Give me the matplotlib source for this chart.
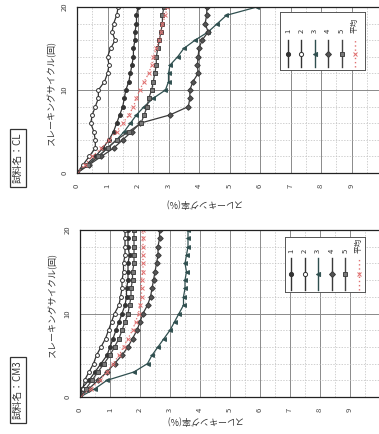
import numpy as np
import matplotlib
matplotlib.use("Agg")
import matplotlib.pyplot as plt

plt.rcParams['font.family'] = ['Noto Sans CJK JP', 'DejaVu Sans']

# --------------------------------- Data -------------------------------- #
cycles = list(range(0, 21))
series_names = ["1", "2", "3", "4", "5", "平均"]

# sample CL
cl_1 = [0, 0.3, 0.6, 0.85, 1.05, 1.2, 1.3, 1.4, 1.5, 1.55, 1.6, 1.7, 1.75, 1.8, 1.85, 1.85, 1.9, 1.9, 1.95, 1.95, 2.0]
cl_2 = [0, 0.2, 0.4, 0.6, 0.6, 0.55, 0.45, 0.5, 0.6, 0.7, 0.7, 0.9, 1.0, 1.05, 1.0, 1.1, 1.25, 1.15, 1.2, 1.3, 1.35]
cl_3 = [0, 0.35, 0.7, 1.0, 1.3, 1.55, 1.75, 1.95, 2.2, 2.5, 2.9, 3.0, 3.0, 3.05, 3.3, 3.5, 3.87, 4.3, 4.6, 4.9, 5.9]
cl_4 = [0, 0.4, 0.8, 1.2, 1.5, 1.8, 2.07, 3.05, 3.65, 3.7, 3.7, 3.8, 3.97, 3.95, 3.97, 4.0, 4.1, 4.3, 4.2, 4.25, 4.26]
cl_5 = [0, 0.35, 0.7, 1.0, 1.3, 1.7, 2.1, 2.2, 2.3, 2.35, 2.45, 2.5, 2.55, 2.6, 2.6, 2.65, 2.7, 2.75, 2.8, 2.8, 2.85]
cl_avg = [0, 0.25, 0.5, 0.8, 1.05, 1.3, 1.5, 1.7, 1.85, 1.95, 2.05, 2.2, 2.35, 2.45, 2.5, 2.6, 2.7, 2.75, 2.8, 2.9, 2.95]

# sample CM3
cm_1 = [0, 0.05, 0.3, 0.5, 0.7, 0.9, 1.0, 1.1, 1.2, 1.3, 1.4, 1.5, 1.55, 1.55, 1.6, 1.6, 1.6, 1.65, 1.6, 1.6, 1.6]
cm_2 = [0, 0.1, 0.15, 0.3, 0.45, 0.55, 0.7, 0.85, 0.95, 1.05, 1.15, 1.3, 1.35, 1.4, 1.4, 1.45, 1.45, 1.5, 1.5, 1.5, 1.5]
cm_3 = [0, 0.5, 0.9, 1.8, 2.25, 2.4, 2.6, 2.8, 3.0, 3.15, 3.3, 3.45, 3.45, 3.5, 3.5, 3.55, 3.5, 3.55, 3.6, 3.6, 3.6]
cm_4 = [0, 0.3, 0.6, 0.9, 1.15, 1.4, 1.6, 1.75, 1.9, 2.0, 2.1, 2.25, 2.35, 2.4, 2.45, 2.5, 2.55, 2.6, 2.6, 2.65, 2.65]
cm_5 = [0, 0.2, 0.4, 0.6, 0.8, 1.0, 1.15, 1.3, 1.4, 1.5, 1.6, 1.65, 1.7, 1.7, 1.75, 1.75, 1.8, 1.8, 1.8, 1.8, 1.8]
cm_avg = [0, 0.35, 0.65, 0.9, 1.1, 1.3, 1.45, 1.6, 1.75, 1.85, 1.95, 2.0, 2.05, 2.05, 2.05, 2.1, 2.1, 2.1, 2.1, 2.1, 2.1]

rate_ticks = list(range(0, 11))
rate_labels = [str(v) for v in range(0, 10)] + [""]  # "10" falls off the page edge
cycle_ticks = [0, 10, 20]

# ------------------------------- Styles -------------------------------- #
STYLES = [
    dict(color="#333333", marker="o", mfc="#333333", ls="-"),
    dict(color="#333333", marker="o", mfc="white", ls="-"),
    dict(color="#2f4f4f", marker="<", mfc="#2f4f4f", ls="-"),
    dict(color="#3a3a3a", marker="D", mfc="#555555", ls="-"),
    dict(color="#444444", marker="s", mfc="#777777", ls="-"),
    dict(color="#e07070", marker="x", mfc="#e07070", ls=(0, (1, 2))),
]
FS = 6.5


def draw_chart(fig, rect, data, xlab_y, ylab_x, ylab_y, leg_rect, leg_lim):
    ax = fig.add_axes(rect)
    for vals, st in zip(data, STYLES):
        ax.plot(vals, cycles, color=st["color"], ls=st["ls"], lw=0.9,
                marker=st["marker"], ms=2.8, mfc=st["mfc"], mec=st["color"], mew=0.7)
    ax.set_xlim(0, 10)
    ax.set_ylim(0, 20)
    ax.set_xticks(rate_ticks)
    ax.set_xticklabels(rate_labels)
    ax.set_xticks(np.arange(0, 10.01, 0.5), minor=True)
    ax.set_yticks(cycle_ticks)
    ax.set_yticks(range(0, 21, 2), minor=True)
    ax.grid(which="major", color="#8a8a8a", lw=0.7)
    ax.grid(which="minor", color="#bdbdbd", lw=0.5, ls=(0, (2, 2)))
    ax.set_axisbelow(True)
    ax.tick_params(which="both", length=0)
    ax.tick_params(axis="x", labelrotation=90, pad=8, labelsize=5.5, labelcolor="#444444")
    ax.tick_params(axis="y", labelrotation=90, pad=6, labelsize=5.5, labelcolor="#444444")
    for lab in ax.get_yticklabels():
        lab.set_va("center")
    for sp in ax.spines.values():
        sp.set_color("#222222")
        sp.set_linewidth(0.9)
    ax.text(0.416, xlab_y, "スレーキング率(%)", rotation=180, ha="center", va="center",
            fontsize=FS, color="#333333", transform=ax.transAxes)
    ax.text(ylab_x, ylab_y, "スレーキングサイクル(回)", rotation=90, ha="center", va="center",
            fontsize=FS, color="#333333", transform=ax.transAxes)

    # legend (drawn rotated, like the page)
    lg = fig.add_axes(leg_rect)
    for i, (name, st) in enumerate(zip(series_names, STYLES)):
        lg.plot([i, i, i], [0, 0.5, 1], color=st["color"], ls=st["ls"], lw=1.0,
                marker=st["marker"], markevery=[1], ms=3, mfc=st["mfc"],
                mec=st["color"], mew=0.7)
        lg.text(i, leg_lim[4], name, rotation=90, ha="center", va="bottom",
                fontsize=5.5, color="#333333")
    lg.set_xlim(leg_lim[0], leg_lim[1])
    lg.set_ylim(leg_lim[2], leg_lim[3])
    lg.set_xticks([])
    lg.set_yticks([])
    lg.set_facecolor("white")
    for sp in lg.spines.values():
        sp.set_color("#555555")
        sp.set_linewidth(0.7)
    return ax


fig = plt.figure(figsize=(3.79, 4.34), dpi=100)

W, H = 379.0, 434.0

# top chart: CL
draw_chart(fig, [77 / W, 1 - 173 / H, 305 / W, 166 / H],
           [cl_1, cl_2, cl_3, cl_4, cl_5, cl_avg],
           xlab_y=-0.187, ylab_x=-0.082, ylab_y=0.48,
           leg_rect=[280 / W, 1 - 70 / H, 85 / W, 58 / H],
           leg_lim=(-0.6, 5.75, -0.11, 2.04, 1.25))

# bottom chart: CM3
draw_chart(fig, [80 / W, 1 - 397 / H, 300 / W, 167 / H],
           [cm_1, cm_2, cm_3, cm_4, cm_5, cm_avg],
           xlab_y=-0.144, ylab_x=-0.092, ylab_y=0.55,
           leg_rect=[285 / W, 1 - 292 / H, 80 / W, 55 / H],
           leg_lim=(-0.44, 5.44, -0.06, 1.66, 1.16))

box = dict(boxstyle="square,pad=0.35", fc="white", ec="#333333", lw=0.9)
fig.text(18 / W, 1 - 158 / H, "試料名：CL", rotation=90, ha="center", va="center",
         fontsize=7, color="#333333", bbox=box)
fig.text(18 / W, 1 - 390 / H, "試料名：CM3", rotation=90, ha="center", va="center",
         fontsize=7, color="#333333", bbox=box)

fig.savefig("out.png", dpi=100, facecolor="white")
